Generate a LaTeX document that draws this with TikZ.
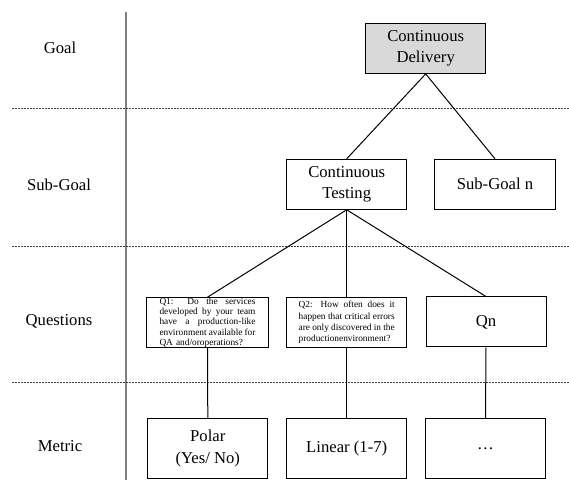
\documentclass[tikz,border=0pt]{standalone}
\usepackage{fontspec}
\setmainfont{Liberation Serif}
\newcommand{\jline}[1]{\makebox[57.6pt][s]{\spaceskip=0pt\xspaceskip=0pt #1}}
\begin{document}
\begin{tikzpicture}[x=0.6pt,y=-0.6pt,
	box/.style={draw, line width=0.6pt, minimum width=72pt, minimum height=30pt, align=center, inner sep=1pt, font=\fontsize{10}{13}\selectfont},
	qbox/.style={box, text width=57.6pt, inner xsep=7.2pt, inner ysep=0pt, align=left, font=\fontsize{5.6}{6.1}\selectfont},
	mbox/.style={box, minimum height=36pt},
	rowline/.style={dash pattern=on 1.2pt off 0.6pt, line width=0.5pt, black!75},
	link/.style={line width=0.6pt},
	level/.style={font=\fontsize{10}{12}\selectfont}]
		\useasboundingbox (0,0) rectangle (569,482);
		% layers
		\draw [line width=1pt, black!50] (126,12) -- (126,480);
		\draw [rowline] (12,108) -- (569,108);
		\draw [rowline] (12,246) -- (569,246);
		\draw [rowline] (12,382) -- (569,382);
		\node [level] (goal) at (60,48) {Goal};
		\node [level] (subgoal) at (59,185) {Sub-Goal};
		\node [level] (questions) at (59,321) {Questions};
		\node [level] (metric) at (60,446) {Metric};
		% tree
		\node [box, fill=gray!30] (cd) at (425.7,48.4) {Continuous\\Delivery};
		\node [box] (ct) at (346.7,184.3) {Continuous\\Testing};
		\node [box, minimum width=73pt] (sgn) at (495,184.3) {Sub-Goal n};
		\node [qbox, minimum width=73pt] (q1) at (207.5,322.7) {\jline{Q1: Do the services}\\\jline{developed by your team}\\\jline{have a production-like}\\\jline{environment available for}\\QA and/oroperations?};
		\node [qbox, font=\fontsize{5.6}{6.8}\selectfont] (q2) at (346.7,322.7) {\jline{Q2: How often does it}\\\jline{happen that critical errors}\\\jline{are only discovered in the}\\productionenvironment?};
		\node [box] (qn) at (486,322) {Qn};
		\node [mbox] (polar) at (207.8,448.3) {Polar\\(Yes/ No)};
		\node [mbox] (linear) at (346.7,448.3) {Linear (1-7)};
		\node [mbox] (dots) at (485.5,448.3) {\dots};
		\draw [link] (cd.south) -- (ct.north);
		\draw [link] (cd.south) -- (sgn.north);
		\draw [link] (ct.south) -- (q1.north);
		\draw [link] (ct.south) -- (q2.north);
		\draw [link] (ct.south) -- (qn.north);
		\draw [link] (q1.south) -- (polar.north);
		\draw [link] (q2.south) -- (linear.north);
		\draw [link] (qn.south) -- (dots.north);
	\end{tikzpicture}
\end{document}
